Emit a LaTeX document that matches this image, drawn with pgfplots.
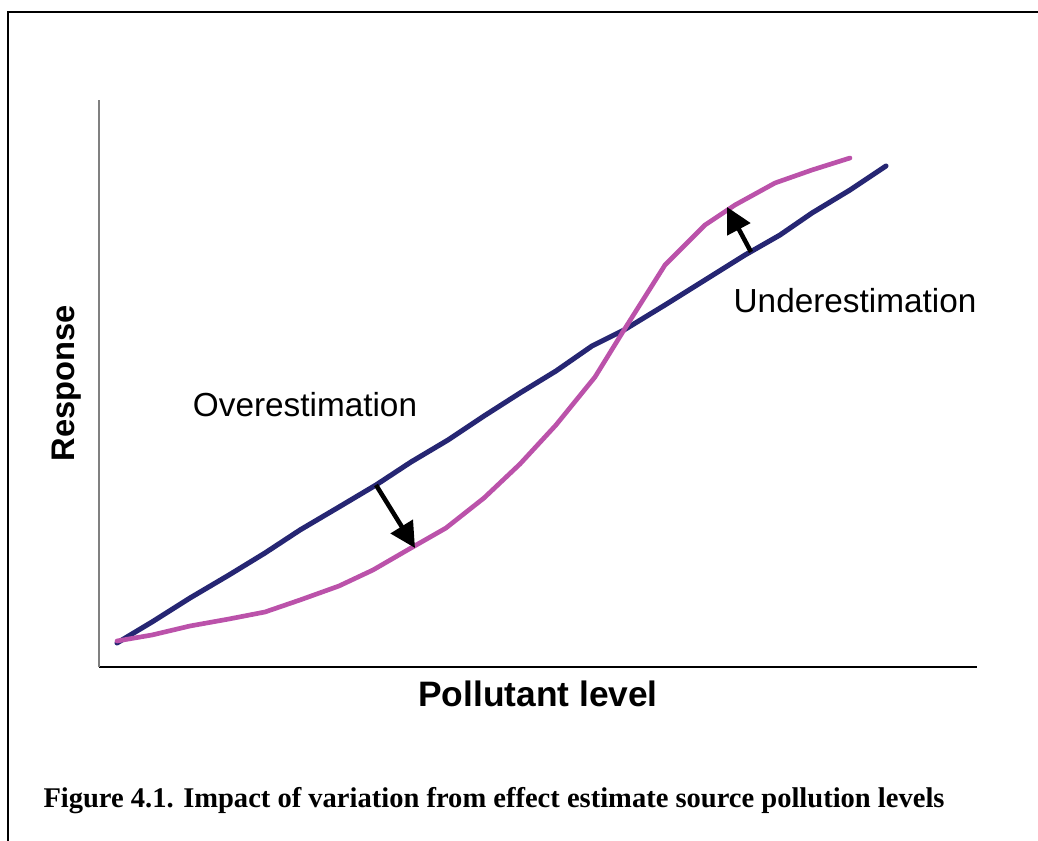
\documentclass[border=0pt]{standalone}
\usepackage{pgfplots}
\pgfplotsset{compat=1.18}
\usepackage{fontspec}
\setmainfont{Liberation Sans}
\newfontfamily\capfont{Liberation Serif}
\usetikzlibrary{arrows.meta}
\definecolor{navyline}{RGB}{38,38,115}
\definecolor{pinkline}{RGB}{187,82,170}
\begin{document}
\begin{tikzpicture}[x=0.75pt,y=0.75pt]
\useasboundingbox (0,0) rectangle (1038,841);
% frame (y measured from bottom: py -> 841-py)
\draw[line width=1.5pt] (8,0) -- (8,829) -- (1038,829);
\begin{axis}[
  at={(99,174)}, anchor=south west,
  width=658.5pt, height=425.25pt, scale only axis,
  xmin=0, xmax=878, ymin=0, ymax=567,
  axis x line*=bottom, axis y line*=left,
  x axis line style={-, line width=0.8pt, black},
  y axis line style={-, line width=0.8pt, gray},
  ticks=none,
  clip=false,
]
\addplot[navyline, line width=3.8pt, line cap=round, line join=round] coordinates {
(18,24)(53,45)(91,69)(130,92)(166,114)(201,137)(240,160)(277,182)(312,205)(349,227)(385,251)(421,274)(457,296)(493,321)(525,337)(566,362)(606,387)(646,412)(681,432)(713,454)(751,477)(787,501)};
\addplot[pinkline, line width=3.5pt, line cap=round, line join=round] coordinates {
(18,26)(53,32)(91,41)(130,48)(166,55)(201,67)(240,81)(274,97)(312,119)(347,139)(385,169)(421,203)(457,242)(496,290)(525,337)(566,402)(606,442)(636,462)(676,484)(713,497)(751,509)};
\draw[line width=3.4pt, -{Triangle[length=19pt,width=19pt]}] (axis cs:277,182) -- (axis cs:316,119);
\draw[line width=3.4pt, -{Triangle[length=19pt,width=19pt]}] (axis cs:652,415) -- (axis cs:628,460);
\node[font=\fontsize{25}{29}\selectfont] at (axis cs:206,262) {Overestimation};
\node[font=\fontsize{25}{29}\selectfont] at (axis cs:756,366) {Underestimation};
\end{axis}
\node[font=\fontsize{26.5}{30}\bfseries\selectfont] at (538,147) {Pollutant level};
\node[rotate=90, font=\fontsize{24.5}{28}\bfseries\selectfont] at (67,458) {Response};
\node[anchor=base, font=\capfont\fontsize{21.4}{25}\bfseries\selectfont] at (494,33) {Figure 4.1. Impact of variation from effect estimate source pollution levels};
\end{tikzpicture}
\end{document}
